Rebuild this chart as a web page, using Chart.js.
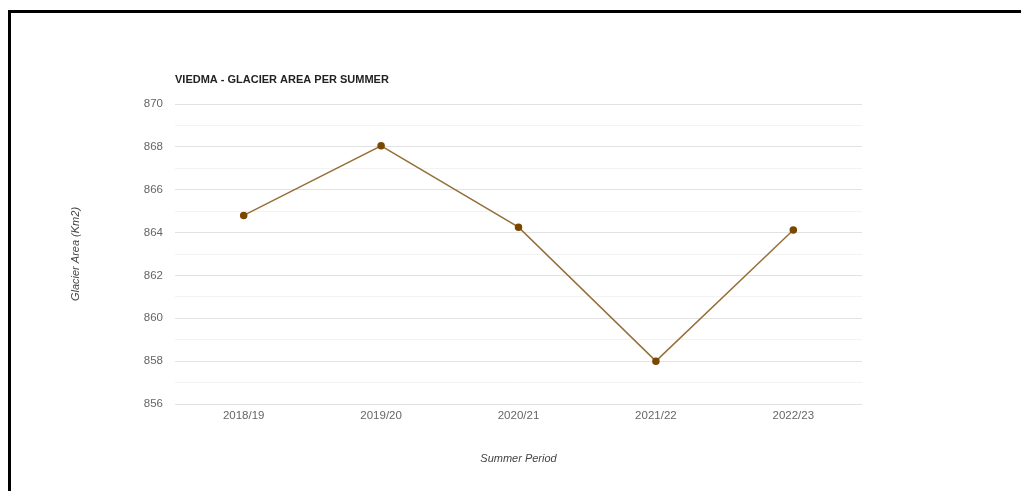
<!DOCTYPE html>
<html>
<head>
<meta charset="utf-8">
<script src="https://cdn.jsdelivr.net/npm/chart.js@4"></script>
<style>
  html, body { margin: 0; padding: 0; background: #fff; }
  #wrap { position: relative; width: 1021px; height: 491px; }
  #frame { position: absolute; left: 8px; top: 10px; right: 0; bottom: 0;
           border-top: 3px solid #000; border-left: 3px solid #000; pointer-events: none; }
  canvas { position: absolute; left: 0; top: 0; }
</style>
</head>
<body>
<div id="wrap">
  <canvas id="chart" width="1021" height="491"></canvas>
  <div id="frame"></div>
</div>
<script>
// glacier area per summer (km2)
const periods = ['2018/19', '2019/20', '2020/21', '2021/22', '2022/23'];
const glacierArea = [864.8, 868.05, 864.25, 858.0, 864.12];
const yMin = 856;
const yMax = 870;

const ctx = document.getElementById('chart').getContext('2d');
const chart = new Chart(ctx, {
    type: 'line',
    data: {
        labels: periods,
        datasets: [{
            label: 'Glacier Area',
            data: glacierArea,
            borderColor: '#96703a',
            borderWidth: 1.5,
            pointBackgroundColor: '#7a4700',
            pointBorderColor: '#7a4700',
            pointRadius: 3,
            tension: 0
        }]
    },
    options: {
        responsive: false,
        animation: false,
        layout: { padding: { top: 60, right: 159, bottom: 25, left: 0 } },
        plugins: {
            legend: { display: false },
            tooltip: { enabled: false },
            title: {
                display: true,
                text: 'VIEDMA - GLACIER AREA PER SUMMER',
                align: 'start',
                fullSize: false,
                color: '#222',
                font: { family: 'Arial, "Liberation Sans"', size: 11, weight: 'bold', lineHeight: 1.2 },
                padding: { top: 13.4, bottom: 17.4 }
            }
        },
        scales: {
            x: {
                offset: true,
                grid: { display: false, drawTicks: false },
                border: { display: false },
                ticks: { color: '#666', padding: 5, font: { family: 'Arial, "Liberation Sans"', size: 11.5 } },
                title: {
                    display: true,
                    text: 'Summer Period',
                    color: '#444',
                    padding: 0,
                    font: { family: 'Arial, "Liberation Sans"', size: 11, style: 'italic', lineHeight: 1.2 }
                },
                afterFit: function (scale) { scale.height = 491 - 404 - 25; }
            },
            y: {
                min: yMin,
                max: yMax,
                border: { display: false },
                grid: {
                    drawTicks: false,
                    color: function (c) { return c.tick && c.tick.value % 2 === 0 ? '#e2e2e2' : '#f3f3f3'; }
                },
                ticks: {
                    stepSize: 1,
                    padding: 12,
                    color: '#666',
                    font: { family: 'Arial, "Liberation Sans"', size: 11.5 },
                    callback: function (v) { return v % 2 === 0 ? v : ''; }
                },
                title: {
                    display: true,
                    text: 'Glacier Area (Km2)',
                    color: '#444',
                    padding: { top: 69, bottom: 0 },
                    font: { family: 'Arial, "Liberation Sans"', size: 11, style: 'italic', lineHeight: 1.2 }
                },
                afterFit: function (scale) { scale.width = 175; }
            }
        }
    }
});
</script>
</body>
</html>
